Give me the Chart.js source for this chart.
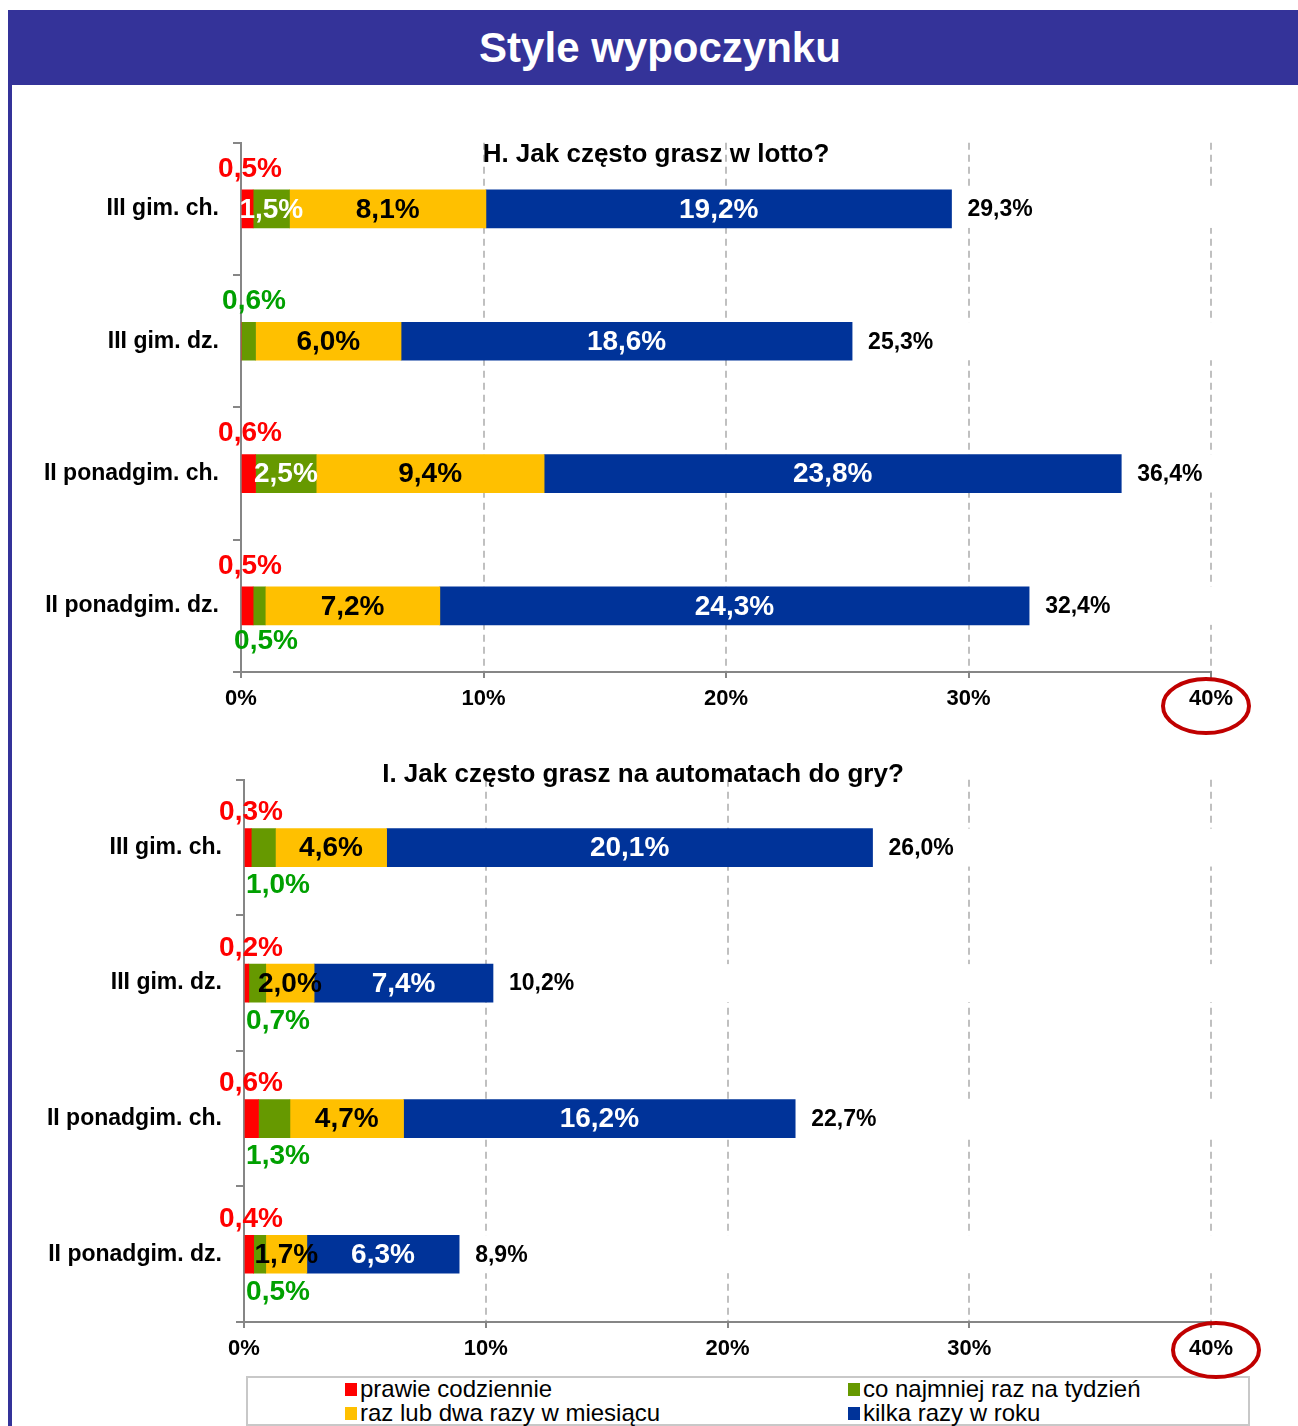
<!DOCTYPE html>
<html>
<head>
<meta charset="utf-8">
<script src="https://cdn.jsdelivr.net/npm/chart.js@4/dist/chart.umd.min.js"></script>
<style>
html,body{margin:0;padding:0;background:#fff;}
body{width:1298px;height:1426px;position:relative;overflow:hidden;font-family:"Liberation Sans",Arial,sans-serif;}
#banner{position:absolute;left:8px;top:10px;width:1290px;height:75px;background:#343399;color:#fff;font-weight:bold;font-size:42px;line-height:75px;text-align:center;box-sizing:border-box;padding-left:14px;}
#leftline{position:absolute;left:8px;top:85px;width:4px;height:1341px;background:#343399;}
.wrap{position:absolute;left:0;width:1298px;z-index:2;}
#legend{position:absolute;left:246px;top:1376px;width:1004px;height:50px;border:2px solid #C8C8C8;box-sizing:border-box;z-index:1;background:#fff;}
.li{position:absolute;font-size:24px;line-height:24px;color:#000;white-space:nowrap;}
.sq{position:absolute;width:12px;height:13px;}
</style>
</head>
<body>
<div id="banner">Style wypoczynku</div>
<div id="leftline"></div>
<div id="legend"></div>
<div class="wrap" style="top:115px;height:620px;"><canvas id="c1" width="1298" height="620"></canvas></div>
<div class="wrap" style="top:752px;height:633px;"><canvas id="c2" width="1298" height="633"></canvas></div>
<script>
// ---------- DATA ----------
const categories = ['III gim. ch.', 'III gim. dz.', 'II ponadgim. ch.', 'II ponadgim. dz.'];
const seriesNames = ['prawie codziennie', 'co najmniej raz na tydzień', 'raz lub dwa razy w miesiącu', 'kilka razy w roku'];
const seriesColors = ['#FF0000', '#669900', '#FFC000', '#003399'];

const lottoTitle = 'H. Jak często grasz w lotto?';
const lottoDaily   = [0.5, 0,   0.6, 0.5];
const lottoWeekly  = [1.5, 0.6, 2.5, 0.5];
const lottoMonthly = [8.1, 6.0, 9.4, 7.2];
const lottoYearly  = [19.2, 18.6, 23.8, 24.3];
const lottoTotals  = [29.3, 25.3, 36.4, 32.4];

const slotTitle = 'I. Jak często grasz na automatach do gry?';
const slotDaily   = [0.3, 0.2, 0.6, 0.4];
const slotWeekly  = [1.0, 0.7, 1.3, 0.5];
const slotMonthly = [4.6, 2.0, 4.7, 1.7];
const slotYearly  = [20.1, 7.4, 16.2, 6.3];
const slotTotals  = [26.0, 10.2, 22.7, 8.9];

const xTickValues = [0, 10, 20, 30, 40];

// ---------- STYLE / PLACEMENT ----------
const FONT = '"Liberation Sans", Arial, sans-serif';
const fmt = v => v.toFixed(1).replace('.', ',') + '%';

// legend
(function(){
  const lg = document.getElementById('legend');
  const pos = [[97, 2], [600, 2], [97, 26], [600, 26]];
  seriesNames.forEach((n, i) => {
    const sq = document.createElement('div');
    sq.className = 'sq';
    sq.style.left = pos[i][0] + 'px';
    sq.style.top = (pos[i][1] + 3) + 'px';
    sq.style.background = seriesColors[i];
    lg.appendChild(sq);
    const t = document.createElement('div');
    t.className = 'li';
    t.style.left = (pos[i][0] + 15) + 'px';
    t.style.top = (pos[i][1] - 3) + 'px';
    t.textContent = n;
    lg.appendChild(t);
  });
})();

const labelPlugin = {
  id: 'segLabels',
  beforeDatasetsDraw(chart) {
    const ctx = chart.ctx;
    const area = chart.chartArea;
    const last = chart.getDatasetMeta(3);
    ctx.save();
    ctx.fillStyle = '#FFFFFF';
    last.data.forEach(el => {
      ctx.fillRect(el.x, el.y - el.height / 2, area.right + 2 - el.x, el.height);
    });
    ctx.restore();
  },
  afterDatasetsDraw(chart) {
    const o = chart.options.plugins.segLabels;
    const ctx = chart.ctx;
    const area = chart.chartArea;
    const xs = chart.scales.x;
    const x0 = xs.getPixelForValue(0);
    ctx.save();
    ctx.textBaseline = 'middle';
    // chart title
    ctx.font = 'bold 26px ' + FONT;
    ctx.fillStyle = '#000';
    ctx.textAlign = 'center';
    ctx.fillText(o.title, o.titleX, o.titleY);

    const segFont = 'bold 28px ' + FONT;
    chart.data.datasets.forEach((ds, di) => {
      const meta = chart.getDatasetMeta(di);
      meta.data.forEach((el, i) => {
        const v = ds.data[i];
        if (!v) return;
        const cy = el.y;
        const cx = (el.x + el.base) / 2;
        ctx.font = segFont;
        ctx.textAlign = 'center';
        if (di === 0) {
          ctx.fillStyle = '#FF0000';
          ctx.fillText(fmt(v), x0 + o.redDx, cy + o.aboveDy);
        } else if (di === 1) {
          const p = o.greenPlace[i];
          if (p === 'in') {
            ctx.fillStyle = '#FFFFFF';
            ctx.fillText(fmt(v), cx, cy + 1);
          } else if (p === 'above') {
            ctx.fillStyle = '#00A000';
            ctx.fillText(fmt(v), x0 + o.greenAboveDx, cy + o.aboveDy);
          } else {
            ctx.fillStyle = '#00A000';
            ctx.fillText(fmt(v), x0 + o.greenBelowDx, cy + o.belowDy);
          }
        } else if (di === 2) {
          ctx.fillStyle = '#000000';
          ctx.fillText(fmt(v), cx, cy + 1);
        } else {
          ctx.fillStyle = '#FFFFFF';
          ctx.fillText(fmt(v), cx, cy + 1);
          // total
          ctx.font = 'bold 23px ' + FONT;
          ctx.fillStyle = '#000000';
          ctx.textAlign = 'left';
          ctx.fillText(fmt(o.totals[i]), el.x + 16, cy + 1);
        }
      });
    });
    // ellipse around last tick
    const ex = xs.getPixelForValue(40) + o.ellDx;
    const ey = area.bottom + 27 + o.ellDy;
    ctx.beginPath();
    ctx.ellipse(ex, ey, 43, 27, 0, 0, Math.PI * 2);
    ctx.strokeStyle = '#C00000';
    ctx.lineWidth = 4;
    ctx.stroke();
    ctx.restore();
  }
};

function makeChart(id, vals, totals, opts) {
  return new Chart(document.getElementById(id), {
    type: 'bar',
    data: {
      labels: categories,
      datasets: vals.map((d, i) => ({
        label: seriesNames[i],
        data: d,
        backgroundColor: seriesColors[i],
        borderWidth: 0,
        barThickness: 38
      }))
    },
    options: {
      indexAxis: 'y',
      responsive: false,
      animation: false,
      layout: { padding: { top: opts.padTop, right: 87, left: 0, bottom: 0 } },
      scales: {
        x: {
          stacked: true,
          min: 0, max: 40,
          afterBuildTicks: s => { s.ticks = xTickValues.map(v => ({ value: v })); },
          afterFit: s => { s.height = opts.xAxisH; },
          ticks: {
            callback: v => v + '%',
            color: '#000',
            padding: 8,
            font: { family: FONT, size: 22, weight: 'bold' }
          },
          grid: {
            color: c => (c.tick && c.tick.value === 0) ? 'rgba(0,0,0,0)' : '#C0C0C0',
            lineWidth: 2,
            tickLength: 6,
            tickColor: '#868686',
            tickWidth: 2
          },
          border: { display: true, color: '#868686', width: 2, dash: [7, 5] }
        },
        y: {
          stacked: true,
          afterFit: s => { s.width = opts.yAxisW; },
          ticks: {
            color: '#000',
            padding: 14,
            font: { family: FONT, size: 23, weight: 'bold' }
          },
          grid: { drawOnChartArea: false, tickLength: 8, color: '#868686', lineWidth: 2 },
          border: { display: true, color: '#868686', width: 2 }
        }
      },
      plugins: {
        legend: { display: false },
        tooltip: { enabled: false },
        segLabels: opts
      }
    },
    plugins: [labelPlugin]
  });
}

makeChart('c1', [lottoDaily, lottoWeekly, lottoMonthly, lottoYearly], lottoTotals, {
  title: lottoTitle, titleX: 656, titleY: 40,
  totals: lottoTotals,
  padTop: 18, xAxisH: 63, yAxisW: 241,
  redDx: 9, greenAboveDx: 13, greenBelowDx: 25,
  aboveDy: -40, belowDy: 35,
  greenPlace: ['in', 'above', 'in', 'below'],
  ellDx: -5, ellDy: 7
});

makeChart('c2', [slotDaily, slotWeekly, slotMonthly, slotYearly], slotTotals, {
  title: slotTitle, titleX: 643, titleY: 23,
  totals: slotTotals,
  padTop: 22, xAxisH: 63, yAxisW: 244,
  redDx: 7, greenAboveDx: 13, greenBelowDx: 34,
  aboveDy: -35, belowDy: 38,
  greenPlace: ['below', 'below', 'below', 'below'],
  ellDx: 5, ellDy: 1
});
</script>
</body>
</html>
